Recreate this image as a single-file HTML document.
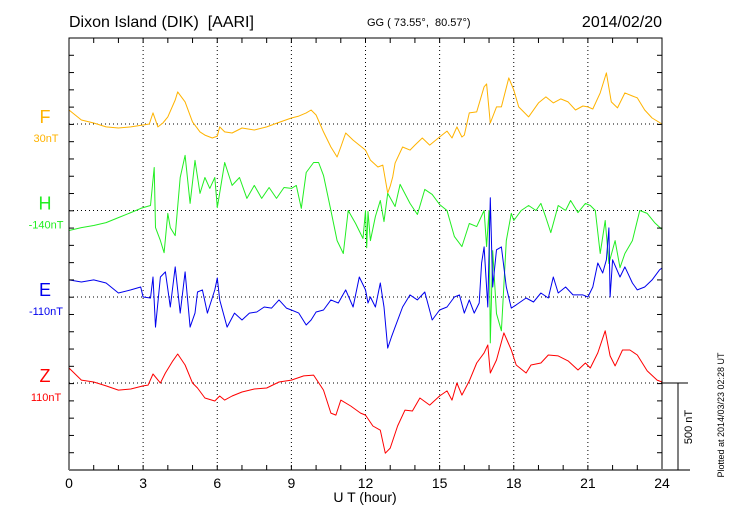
<!DOCTYPE html>
<html><head><meta charset="utf-8"><style>
html,body{margin:0;padding:0;background:#fff;}
svg{display:block;font-family:"Liberation Sans",sans-serif;}
</style></head><body>
<svg id="chart" width="730" height="520" viewBox="0 0 730 520" xmlns="http://www.w3.org/2000/svg">
<text x="69" y="27" font-size="16" fill="#000">Dixon Island (DIK)&#160; [AARI]</text>
<text x="367" y="26" font-size="11" fill="#000">GG ( 73.55°,&#160; 80.57°)</text>
<text x="662" y="27" font-size="16" text-anchor="end" fill="#000">2014/02/20</text>
<g id="grid"></g>
<g id="series"></g>
<g id="axes"></g>
<text x="365" y="502" font-size="14" text-anchor="middle" fill="#000">U T (hour)</text>
<line x1="678" y1="383" x2="678" y2="470" stroke="#000" stroke-width="1"/>
<line x1="662" y1="383" x2="688" y2="383" stroke="#000" stroke-width="1"/>
<text transform="translate(692,427) rotate(-90)" font-size="11" text-anchor="middle" fill="#000">500 nT</text>
<text transform="translate(724,415) rotate(-90)" font-size="9" text-anchor="middle" fill="#000">Plotted at 2014/03/23 02:28 UT</text>
</svg>
<script>
const xTicks=[0,3,6,9,12,15,18,21,24];
const compNames=["F","H","E","Z"];
const compBaseLabels=["30nT","-140nT","-110nT","110nT"];
const compColors=["#ffb300","#22ee22","#0000ee","#ff0000"];
const fTimes=[0,0.5,1,1.5,2,2.5,3,3.25,3.4,3.6,3.8,4,4.3,4.4,4.7,5,5.3,5.5,5.8,6,6.1,6.3,6.6,7,7.5,8,8.5,9,9.3,9.6,9.8,10,10.3,10.6,10.85,11,11.2,11.5,12,12.2,12.5,12.7,12.9,13,13.1,13.2,13.5,13.8,14,14.3,14.6,15,15.3,15.5,15.7,15.9,16,16.2,16.5,16.8,16.9,17.05,17.3,17.5,17.8,18,18.2,18.6,19,19.3,19.6,19.9,20.2,20.5,20.8,21,21.2,21.5,21.75,21.95,22.2,22.5,22.8,23,23.3,23.6,24];
const fValues=[81,23,6,-17,-23,-17,-6,0,64,-17,6,41,139,186,128,12,-46,-64,-81,-70,-17,-46,-52,-23,-35,-17,9,35,46,64,81,52,-46,-133,-191,-133,-52,-93,-151,-209,-249,-238,-400,-360,-307,-226,-133,-151,-122,-81,-122,-75,-41,-81,-17,-75,-64,64,70,215,232,6,99,99,267,197,99,41,122,157,122,145,128,81,104,99,87,180,296,128,93,180,162,151,81,35,0];
const hTimes=[0,0.5,1,1.5,2,2.5,2.9,3,3.3,3.45,3.5,3.7,3.85,4,4.1,4.3,4.5,4.7,4.9,5.1,5.3,5.5,5.7,5.9,6,6.3,6.6,6.9,7.2,7.5,7.8,8.1,8.4,8.7,9,9.2,9.4,9.6,9.9,10.1,10.3,10.6,10.85,11.1,11.3,11.6,11.9,12,12.05,12.1,12.2,12.4,12.6,12.75,12.9,13.2,13.4,13.8,14.1,14.4,14.7,15,15.3,15.6,15.9,16.2,16.5,16.8,16.9,17.0,17.05,17.15,17.3,17.5,17.7,17.9,18,18.3,18.6,18.9,19.1,19.3,19.5,19.8,20.1,20.3,20.6,20.9,21.1,21.3,21.5,21.7,21.85,22.1,22.3,22.5,22.8,23.1,23.4,23.7,24];
const hValues=[-116,-99,-87,-70,-41,-12,12,17,29,249,-99,-174,-244,-17,-99,-145,191,319,41,290,99,191,128,191,17,278,145,191,70,145,70,133,70,133,128,145,12,220,278,278,203,0,-174,-249,0,-75,-162,0,-215,-6,-174,-35,58,-64,99,23,151,41,-23,122,93,35,0,-151,-209,-75,-93,0,-209,0,-766,-232,-597,-696,-174,-17,-58,0,29,0,41,-41,-128,29,0,58,-12,41,29,0,-249,-58,-307,-174,-331,-249,-174,0,-17,-70,-110];
const eTimes=[0,0.5,1,1.5,2,2.5,2.9,3,3.3,3.4,3.5,3.7,3.9,4.1,4.3,4.5,4.7,4.9,5.1,5.2,5.4,5.6,5.9,6,6.1,6.4,6.7,7,7.3,7.6,7.9,8.2,8.5,8.8,9,9.3,9.6,9.8,10,10.3,10.6,10.9,11.2,11.5,11.75,12,12.1,12.2,12.4,12.6,12.75,12.9,13.05,13.2,13.5,13.8,14.1,14.4,14.7,15,15.3,15.6,15.8,16,16.2,16.4,16.6,16.7,16.8,16.95,17.05,17.15,17.3,17.5,17.7,17.9,18.1,18.5,18.8,19.1,19.4,19.6,19.8,20.1,20.4,20.8,21,21.2,21.4,21.6,21.75,21.85,21.9,22,22.3,22.5,22.8,23,23.3,23.6,23.9,24];
const eValues=[99,87,99,81,23,41,58,0,-6,116,-174,116,145,-58,174,-93,145,-174,-93,29,41,-93,41,110,-17,-174,-93,-133,-93,-87,-58,-64,-17,-64,-75,-93,-162,-133,-87,-75,-17,-35,41,-58,116,41,-35,0,-58,81,-58,-296,-232,-174,-58,12,-17,29,-133,-75,-58,0,12,-93,-17,-93,-35,197,290,-58,574,58,273,290,58,-64,-46,-6,-29,23,-6,116,23,58,12,12,0,58,197,139,215,400,0,215,116,174,81,41,58,99,157,168];
const zTimes=[0,0.5,1,1.5,2,2.5,3,3.2,3.4,3.7,3.9,4.2,4.4,4.7,5,5.2,5.5,5.9,6.1,6.3,6.6,7,7.5,8,8.5,9,9.5,9.9,10.3,10.6,10.8,11,11.4,11.8,12,12.3,12.6,12.8,13,13.3,13.6,13.9,14.2,14.6,15,15.3,15.5,15.7,15.9,16.2,16.5,16.8,16.95,17.05,17.3,17.6,17.9,18.1,18.5,18.7,19.1,19.4,19.8,20.2,20.6,20.9,21.1,21.4,21.7,21.9,22.1,22.4,22.7,23,23.4,23.8,24];
const zValues=[87,17,6,-17,-41,-35,-17,-12,52,0,58,128,168,104,0,-29,-87,-104,-75,-99,-75,-52,-35,-29,6,17,41,46,-41,-174,-186,-99,-133,-174,-186,-249,-273,-406,-377,-249,-157,-162,-87,-128,-75,-46,-99,0,-70,12,116,174,220,58,133,290,191,104,58,104,116,162,157,128,75,116,87,174,302,157,99,191,191,162,70,17,6];

const NS="http://www.w3.org/2000/svg";
const X0=69,X1=662,Y0=38,Y1=470;
const baselines=[124,210.5,297,383];
const pxPerNT=86.4/500;
function xs(h){return X0+(X1-X0)*h/24;}
function ys(i,v){return baselines[i]-v*pxPerNT;}
function mk(tag,attrs,parent){const e=document.createElementNS(NS,tag);for(const k in attrs)e.setAttribute(k,attrs[k]);parent.appendChild(e);return e;}
const grid=document.getElementById('grid'),axes=document.getElementById('axes'),series=document.getElementById('series'),svg=document.getElementById('chart');

xTicks.forEach(h=>{
  if(h>0&&h<24){
    const l=mk('line',{x1:xs(h),x2:xs(h),y1:Y0,y2:Y1,stroke:'#000','stroke-width':1,'stroke-dasharray':'1,3'},grid);
    
    
  }
  const t=mk('text',{x:xs(h),y:488,'font-size':14,'text-anchor':'middle',fill:'#000'},axes);
  t.textContent=h;
  
  
});
baselines.forEach(b=>{
  const l=mk('line',{x1:X0,x2:X1,y1:b,y2:b,stroke:'#000','stroke-width':1,'stroke-dasharray':'1,3'},grid);
  
  
});
const fr=mk('path',{d:`M${X0},${Y1}V${Y0}H${X1}V${Y1}`,fill:'none',stroke:'#000','stroke-width':1},axes);


const bx=mk('line',{x1:X0,x2:690,y1:Y1,y2:Y1,stroke:'#777','stroke-width':2},axes);


for(let h=1;h<24;h++){
  mk('line',{x1:xs(h),x2:xs(h),y1:Y0,y2:Y0+5,stroke:'#000'},axes);
  mk('line',{x1:xs(h),x2:xs(h),y1:Y1,y2:Y1-5,stroke:'#000'},axes);
}
for(let y=Y0+17.28;y<Y1-2;y+=17.28){
  mk('line',{x1:X0,x2:X0+5,y1:y,y2:y,stroke:'#000'},axes);
  mk('line',{x1:X1,x2:X1-5,y1:y,y2:y,stroke:'#000'},axes);
}
const T=[fTimes,hTimes,eTimes,zTimes],V=[fValues,hValues,eValues,zValues];
const snames=['f-series','h-series','e-series','z-series'];
for(let i=0;i<4;i++){
  const n=Math.min(T[i].length,V[i].length);
  let d='';
  for(let k=0;k<n;k++)d+=(k?'L':'M')+xs(T[i][k]).toFixed(1)+','+ys(i,V[i][k]).toFixed(1);
  const p=mk('path',{d:d,fill:'none',stroke:compColors[i],'stroke-width':1,'stroke-linejoin':'round'},series);
  
  
  const t=mk('text',{x:45,y:baselines[i]-1,'font-size':18,'text-anchor':'middle',fill:compColors[i]},svg);
  t.textContent=compNames[i];
  
  
  const t2=mk('text',{x:46,y:baselines[i]+18,'font-size':11,'text-anchor':'middle',fill:compColors[i]},svg);
  t2.textContent=compBaseLabels[i];
  
  
}
</script>
</body></html>
